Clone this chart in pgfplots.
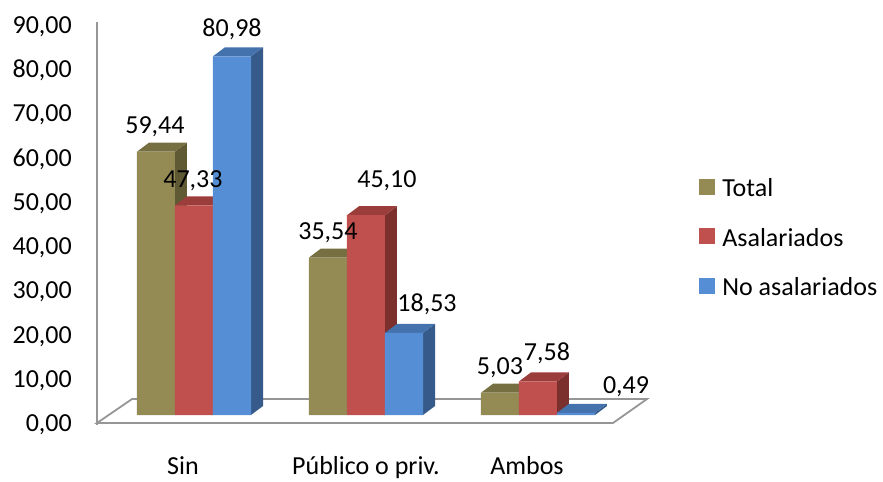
\documentclass[border=0pt]{standalone}
\usepackage{fontspec}
\setmainfont{Carlito}
\usepackage{pgfplots}
\pgfplotsset{compat=1.18}
\definecolor{olF}{RGB}{148,138,84}
\definecolor{olT}{RGB}{118,111,66}
\definecolor{olS}{RGB}{96,90,52}
\definecolor{rdF}{RGB}{192,80,77}
\definecolor{rdT}{RGB}{155,62,59}
\definecolor{rdS}{RGB}{124,48,46}
\definecolor{blF}{RGB}{85,142,213}
\definecolor{blT}{RGB}{68,114,172}
\definecolor{blS}{RGB}{54,91,139}
\definecolor{linegray}{RGB}{150,150,150}
\newcommand{\bwid}{0.221}
\newcommand{\ddx}{0.0698}
\newcommand{\ddy}{2.03}
\newcommand{\bbase}{2.2575}
\newcommand{\lab}{\fontsize{26}{31}\selectfont}
% side and top faces of a 3-D bar: #1 centre, #2 value, #3 side colour, #4 top colour
\newcommand{\sidetop}[4]{%
  \pgfmathsetmacro{\xL}{#1-\bwid/2}%
  \pgfmathsetmacro{\xR}{#1+\bwid/2}%
  \pgfmathsetmacro{\xLb}{#1-\bwid/2+\ddx}%
  \pgfmathsetmacro{\xRb}{#1+\bwid/2+\ddx}%
  \pgfmathsetmacro{\yT}{\bbase+#2}%
  \pgfmathsetmacro{\yTb}{\bbase+#2+\ddy}%
  \pgfmathsetmacro{\yBb}{\bbase+\ddy}%
  \addplot[forget plot, fill=#3, draw=none] coordinates {(\xR,\bbase) (\xRb,\yBb) (\xRb,\yTb) (\xR,\yT)};
  \addplot[forget plot, fill=#4, draw=none] coordinates {(\xL,\yT) (\xR,\yT) (\xRb,\yTb) (\xLb,\yTb)};
}
\begin{document}
\begin{tikzpicture}
\begin{axis}[
  scale only axis, width=786pt, height=403.13pt,
  xmin=-0.564, xmax=4.006, ymin=0, ymax=91,
  axis x line*=bottom, axis y line*=left,
  x axis line style={draw=none},
  y axis line style={draw=linegray, line width=1.8pt},
  major tick length=0pt,
  ytick={0,10,...,90},
  xtick={-0.064,1.0,1.936},
  xticklabels={Sin, Público o priv., Ambos},
  xticklabel style={anchor=base, yshift=-49pt},
  yticklabel style={anchor=east, inner sep=0pt, xshift=-25pt,
    /pgf/number format/.cd, fixed, fixed zerofill, precision=2, use comma, assume math mode=true},
  tick label style={font=\lab},
  clip=false,
  legend cell align=left,
  legend style={at={(axis cs:2.936,42.2)}, anchor=west, draw=none, fill=none,
    inner sep=0pt, outer sep=0pt, font=\lab, row sep=30pt, column sep=8pt,
    nodes={inner sep=0pt}},
]
\path (axis cs:-1.1279,-11.739) rectangle (axis cs:4.0058,95.94);
\draw[linegray, line width=1.8pt] (axis cs:-0.564,0.45) -- (axis cs:2.436,0.45)
  -- (axis cs:2.634,5.87) -- (axis cs:-0.360,5.87) -- cycle;
% Total
\sidetop{-0.221}{59.44}{olS}{olT}
\sidetop{0.779}{35.54}{olS}{olT}
\sidetop{1.779}{5.03}{olS}{olT}
\addplot[ybar, bar width=0.221, bar shift=-0.221, fill=olF, draw=none, yshift=10pt, forget plot]
  coordinates {(0,59.44) (1,35.54) (2,5.03)};
% Asalariados
\sidetop{0}{47.33}{rdS}{rdT}
\sidetop{1}{45.10}{rdS}{rdT}
\sidetop{2}{7.58}{rdS}{rdT}
\addplot[ybar, bar width=0.221, bar shift=0, fill=rdF, draw=none, yshift=10pt, forget plot]
  coordinates {(0,47.33) (1,45.10) (2,7.58)};
% No asalariados
\sidetop{0.221}{80.98}{blS}{blT}
\sidetop{1.221}{18.53}{blS}{blT}
\sidetop{2.221}{0.49}{blS}{blT}
\addplot[ybar, bar width=0.221, bar shift=0.221, fill=blF, draw=none, yshift=10pt, forget plot]
  coordinates {(0,80.98) (1,18.53) (2,0.49)};
% legend
\addlegendimage{legend image code/.code={\fill[olF] (0pt,-5.5pt) rectangle (15pt,9.5pt);}}
\addlegendentry{Total}
\addlegendimage{legend image code/.code={\fill[rdF] (0pt,-5.5pt) rectangle (15pt,9.5pt);}}
\addlegendentry{Asalariados}
\addlegendimage{legend image code/.code={\fill[blF] (0pt,-5.5pt) rectangle (15pt,9.5pt);}}
\addlegendentry{No asalariados}
% data labels
\node[anchor=base, font=\lab] at (axis cs:-0.227,65.9) {59,44};
\node[anchor=base, font=\lab] at (axis cs:-0.006,53.7) {47,33};
\node[anchor=base, font=\lab] at (axis cs:0.221,87.6) {80,98};
\node[anchor=base, font=\lab] at (axis cs:0.779,41.8) {35,54};
\node[anchor=base, font=\lab] at (axis cs:1.122,53.7) {45,10};
\node[anchor=base, font=\lab] at (axis cs:1.355,25.7) {18,53};
\node[anchor=base, font=\lab] at (axis cs:1.779,11.3) {5,03};
\node[anchor=base, font=\lab] at (axis cs:2.052,14.6) {7,58};
\node[anchor=base, font=\lab] at (axis cs:2.512,7.2) {0,49};
\end{axis}
\end{tikzpicture}
\end{document}
